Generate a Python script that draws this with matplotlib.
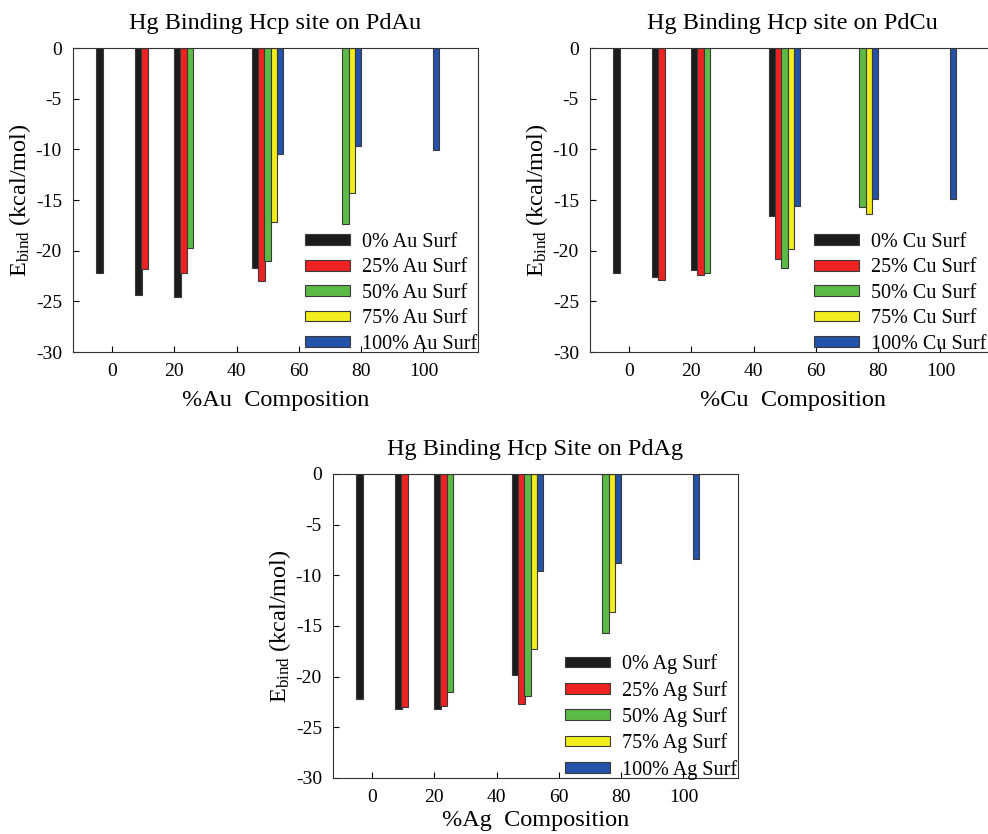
import numpy as np
import matplotlib
matplotlib.use("Agg")
import matplotlib.pyplot as plt

plt.rcParams['font.family'] = ['Liberation Serif', 'DejaVu Serif']
plt.rcParams['mathtext.fontset'] = 'custom'
plt.rcParams['mathtext.rm'] = 'Liberation Serif'

nan = np.nan
compositions = [0, 12.5, 25, 50, 75, 100]
xticks = [0, 20, 40, 60, 80, 100]
yticks = [0, -5, -10, -15, -20, -25, -30]
surf_levels = ["0%", "25%", "50%", "75%", "100%"]

# PdAu
au_surf0 = [-22.2, -24.4, -24.6, -21.7, nan, nan]
au_surf25 = [nan, -21.8, -22.2, -23.0, nan, nan]
au_surf50 = [nan, nan, -19.7, -21.0, -17.4, nan]
au_surf75 = [nan, nan, nan, -17.2, -14.3, nan]
au_surf100 = [nan, nan, nan, -10.5, -9.7, -10.05]

# PdCu
cu_surf0 = [-22.2, -22.6, -21.9, -16.6, nan, nan]
cu_surf25 = [nan, -22.9, -22.4, -20.8, nan, nan]
cu_surf50 = [nan, nan, -22.2, -21.7, -15.7, nan]
cu_surf75 = [nan, nan, nan, -19.8, -16.35, nan]
cu_surf100 = [nan, nan, nan, -15.6, -14.9, -14.9]

# PdAg
ag_surf0 = [-22.2, -23.15, -23.15, -19.8, nan, nan]
ag_surf25 = [nan, -23.0, -22.9, -22.65, nan, nan]
ag_surf50 = [nan, nan, -21.5, -21.95, -15.7, nan]
ag_surf75 = [nan, nan, nan, -17.3, -13.6, nan]
ag_surf100 = [nan, nan, nan, -9.6, -8.8, -8.4]

colors = ['#1c1c1c', '#ee2222', '#5cbb45', '#f2ee1e', '#2452a8']
bar_w = 2.1
offsets = [-4, -2, 0, 2, 4]

fig = plt.figure(figsize=(9.88, 8.34), dpi=100)
W, H = 988, 834

def make_ax(left, top, right, bottom):
    return fig.add_axes([left / W, 1 - bottom / H, (right - left) / W, (bottom - top) / H])

panels = [
    (make_ax(73, 48, 478, 352), [au_surf0, au_surf25, au_surf50, au_surf75, au_surf100],
     'Au', 'Hg Binding Hcp site on PdAu', 7, 1.027),
    (make_ax(590, 48, 995, 352), [cu_surf0, cu_surf25, cu_surf50, cu_surf75, cu_surf100],
     'Cu', 'Hg Binding Hcp site on PdCu', 7, 1.008),
    (make_ax(333, 474, 738, 778), [ag_surf0, ag_surf25, ag_surf50, ag_surf75, ag_surf100],
     'Ag', 'Hg Binding Hcp Site on PdAg', 3, 1.027),
]

x = np.array(compositions)
for ax, series, el, title, xpad, legx in panels:
    for i, vals in enumerate(series):
        ax.bar(x + offsets[i], vals, width=bar_w, color=colors[i], edgecolor='#3a3a3a',
               linewidth=0.8, label=f'{surf_levels[i]} {el} Surf')
    ax.set_xlim(-12.5, 117.5)
    ax.set_ylim(-30, 0)
    ax.set_xticks(xticks)
    ax.set_yticks(yticks)
    ax.set_yticklabels([str(t) for t in yticks])
    ax.tick_params(direction='in', length=4, labelsize=14, width=0.8, pad=8)
    for sp in ax.spines.values():
        sp.set_linewidth(0.8)
        sp.set_color('#333333')
    ax.set_title(title, fontsize=17.5, pad=14)
    ax.set_xlabel(f'%{el}  Composition', fontsize=17.5, labelpad=xpad)
    ax.set_ylabel(r'$\mathregular{E_{bind}}$ (kcal/mol)', fontsize=17.5, labelpad=2)
    leg = ax.legend(loc='lower right', bbox_to_anchor=(legx, -0.045), frameon=False,
                    fontsize=14.5, handlelength=2.2, handleheight=0.45,
                    labelspacing=0.32, handletextpad=0.6, borderaxespad=0.2)

fig.savefig('out.png', dpi=100)
